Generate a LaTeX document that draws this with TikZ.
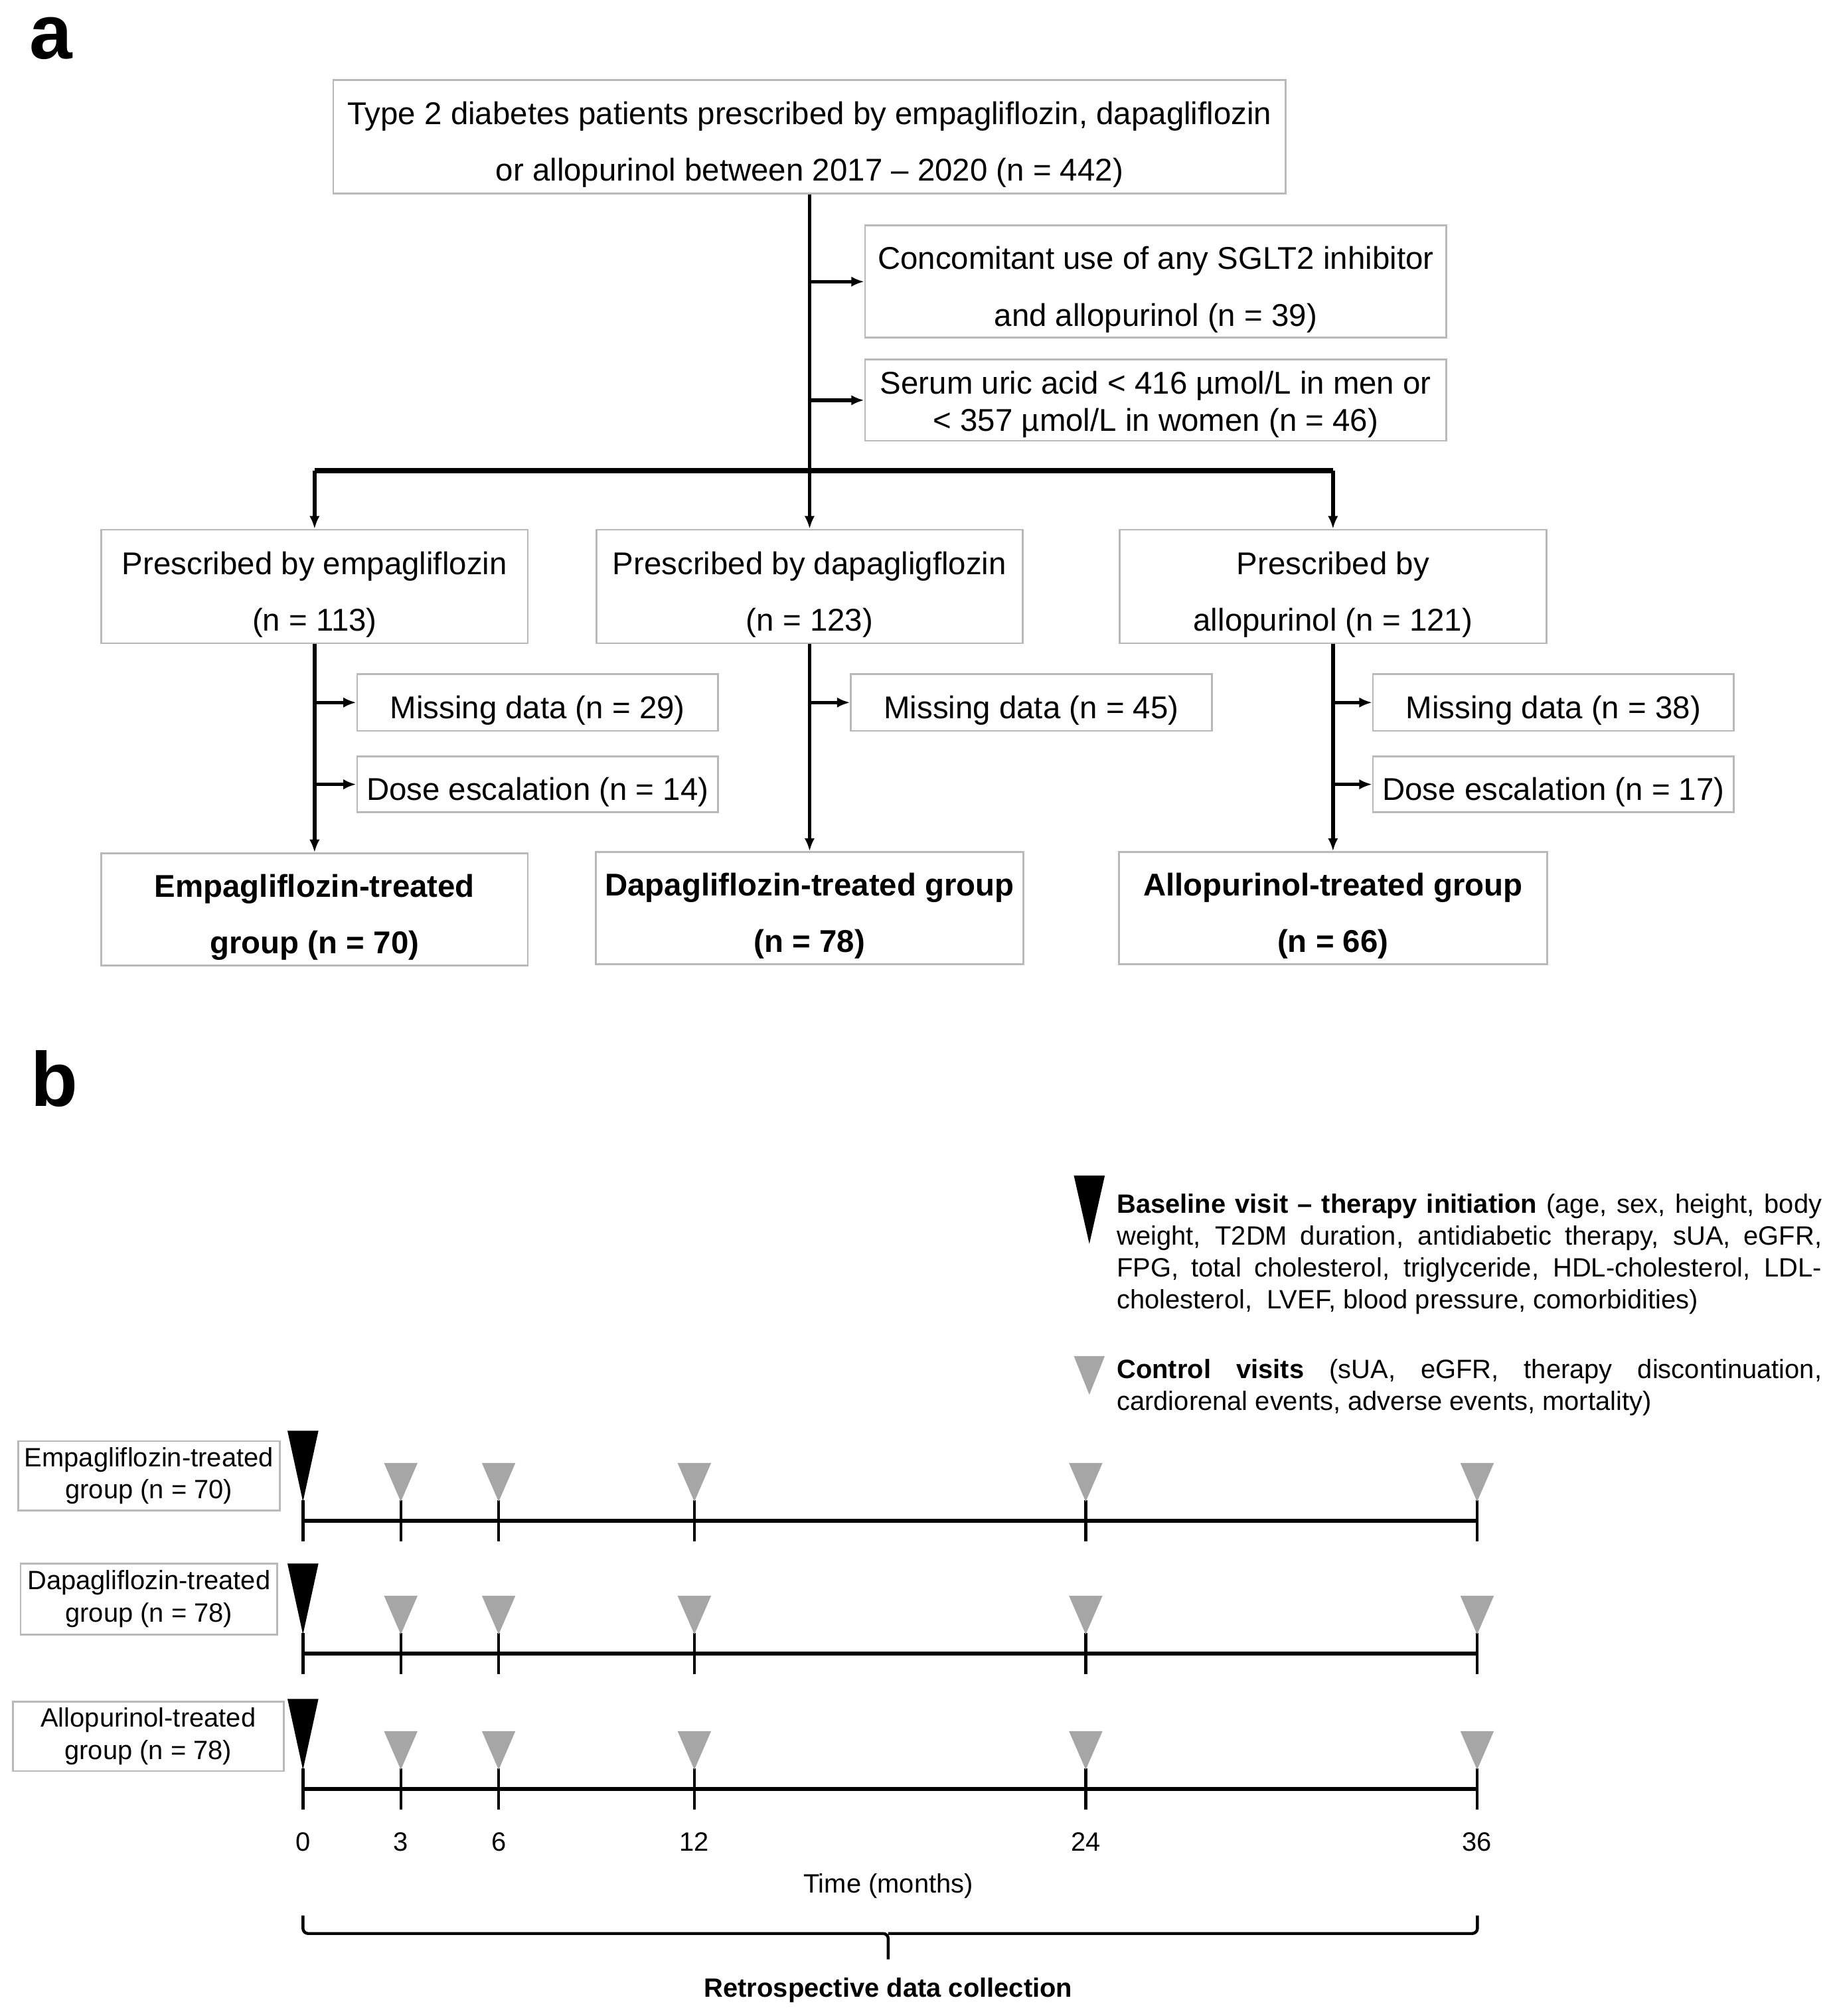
\documentclass[tikz,border=0pt]{standalone}
\usepackage{fontspec}
\setmainfont{Liberation Sans}
\usetikzlibrary{arrows.meta}
\definecolor{boxgray}{RGB}{185,185,185}
\definecolor{visitgray}{RGB}{166,166,166}
\newcommand\fonta{\fontsize{13.9}{25}\selectfont}
\newcommand\fontb{\fontsize{11.7}{14.2}\selectfont}
\newcommand\jline[1]{\makebox[10.94cm][s]{#1}}
\begin{document}
\begin{tikzpicture}[x=0.02cm,y=-0.02cm,
  box/.style={draw=boxgray,line width=0.8pt,inner sep=0pt,align=center,font=\fonta,
    execute at begin node={\rule{0pt}{0.6cm}}},
  twoline/.style={execute at begin node={\rule{0pt}{1.48cm}}},
  groupbox/.style={box,twoline,font=\fonta\bfseries},
  smallbox/.style={draw=boxgray,line width=0.8pt,inner sep=0pt,align=center,font=\fontb},
  arr/.style={line width=1.6pt,-{Latex[length=0.2cm,width=0.16cm]}},
  bar/.style={line width=2.4pt},
  axis/.style={line width=1.7pt},
  tick/.style={line width=1.3pt},
  panel/.style={font=\fontsize{34}{40}\selectfont\bfseries,inner sep=0pt}
]
\useasboundingbox (0,0) rectangle (1420,1564);

% panel a: flow chart
\node[panel] (labela) at (39.5,30) {a};
\node[box,twoline,minimum width=14.78cm,minimum height=1.76cm] (top) at (628,106)
  {Type 2 diabetes patients prescribed by empagliflozin, dapagliflozin\\or allopurinol between 2017 -- 2020 (n = 442)};
\node[box,twoline,minimum width=9.02cm,minimum height=1.74cm] (conc) at (896.5,218.5)
  {Concomitant use of any SGLT2 inhibitor\\and allopurinol (n = 39)};
\node[box,minimum width=9.02cm,minimum height=1.26cm,font=\fontsize{13.9}{16.5}\selectfont,
  execute at begin node={\rule{0pt}{1.06cm}}] (serum) at (896.5,310.5)
  {Serum uric acid < 416 µmol/L in men or\\< 357 µmol/L in women (n = 46)};
\node[box,twoline,minimum width=6.62cm,minimum height=1.76cm] (pe) at (244,455)
  {Prescribed by empagliflozin\\(n = 113)};
\node[box,twoline,minimum width=6.62cm,minimum height=1.76cm] (pd) at (628,455)
  {Prescribed by dapagligflozin\\(n = 123)};
\node[box,twoline,minimum width=6.62cm,minimum height=1.76cm] (pa) at (1034,455)
  {Prescribed by\\allopurinol (n = 121)};
\node[box,minimum width=5.6cm,minimum height=0.88cm] (me) at (417,545) {Missing data (n = 29)};
\node[box,minimum width=5.6cm,minimum height=0.86cm] (de) at (417,608.5) {Dose escalation (n = 14)};
\node[box,minimum width=5.6cm,minimum height=0.88cm] (md) at (800,545) {Missing data (n = 45)};
\node[box,minimum width=5.6cm,minimum height=0.88cm] (ma) at (1205,545) {Missing data (n = 38)};
\node[box,minimum width=5.6cm,minimum height=0.86cm] (da) at (1205,608.5) {Dose escalation (n = 17)};
\node[groupbox,minimum width=6.62cm,minimum height=1.74cm] (ge) at (244,705.5)
  {Empagliflozin-treated\\group (n = 70)};
\node[groupbox,minimum width=6.64cm,minimum height=1.74cm] (gd) at (628,704.5)
  {Dapagliflozin-treated group\\(n = 78)};
\node[groupbox,minimum width=6.64cm,minimum height=1.74cm] (ga) at (1034,704.5)
  {Allopurinol-treated group\\(n = 66)};
\coordinate (split) at (628,365);

\draw[arr] (top.south) -- (pd.north);
\draw[arr] (top.south |- conc.west) -- (conc.west);
\draw[arr] (top.south |- serum.west) -- (serum.west);
\draw[bar] (pe.north |- split) -- (pa.north |- split);
\draw[arr] (pe.north |- split) -- (pe.north);
\draw[arr] (pa.north |- split) -- (pa.north);
\draw[arr] (pe.south) -- (ge.north);
\draw[arr] (pd.south) -- (gd.north);
\draw[arr] (pa.south) -- (ga.north);
\draw[arr] (pe.south |- me.west) -- (me.west);
\draw[arr] (pe.south |- de.west) -- (de.west);
\draw[arr] (pd.south |- md.west) -- (md.west);
\draw[arr] (pa.south |- ma.west) -- (ma.west);
\draw[arr] (pa.south |- da.west) -- (da.west);

% panel b: follow-up timeline
\node[panel] (labelb) at (42,837) {b};
\fill (833,912) -- (857,912) -- (845,965) -- cycle;
\fill[visitgray] (833,1052) -- (857,1052) -- (845,1082) -- cycle;
\node[anchor=north west,inner sep=0pt,align=left,font=\fontsize{11.7}{14}\selectfont] (baseline) at (866,926)
  {\jline{\textbf{Baseline visit -- therapy initiation} (age, sex, height, body}\\
   \jline{weight, T2DM duration, antidiabetic therapy, sUA, eGFR,}\\
   \jline{FPG, total cholesterol, triglyceride, HDL-cholesterol, LDL-}\\
   cholesterol,\ \ LVEF, blood pressure, comorbidities)};
\node[anchor=north west,inner sep=0pt,align=left,font=\fontsize{11.7}{14}\selectfont] (control) at (866,1054)
  {\jline{\textbf{Control visits} (sUA, eGFR, therapy discontinuation,}\\
   cardiorenal events, adverse events, mortality)};

\node[smallbox,minimum width=4.06cm,minimum height=1.08cm] (be) at (115.5,1145)
  {Empagliflozin-treated\\group (n = 70)};
\node[smallbox,minimum width=3.98cm,minimum height=1.1cm] (bd) at (115.5,1240.5)
  {Dapagliflozin-treated\\group (n = 78)};
\node[smallbox,minimum width=4.2cm,minimum height=1.08cm] (ba) at (115,1347)
  {Allopurinol-treated\\group (n = 78)};

\foreach \yy in {1180,1283,1388} {
  \draw[axis] (235,\yy) -- (1146,\yy);
  \foreach \m in {0,3,6,12,24,36}
    \draw[tick] ({235+25.3*\m},{\yy-16}) -- ({235+25.3*\m},{\yy+16});
  \fill (223,{\yy-70}) -- (247,{\yy-70}) -- (235,{\yy-15}) -- cycle;
  \foreach \m in {3,6,12,24,36}
    \fill[visitgray] ({235+25.3*\m-13},{\yy-45}) -- ({235+25.3*\m+13},{\yy-45})
      -- ({235+25.3*\m},{\yy-15}) -- cycle;
}
\foreach \m in {0,3,6,12,24,36}
  \node[font=\fontb] (m\m) at ({235+25.3*\m},1429) {\m};
\node[font=\fontb] (time) at (689,1463) {Time (months)};

\draw[line width=1.3pt,rounded corners=0.08cm] (235,1486) -- (235,1500) -- (689,1500) -- (689,1520);
\draw[line width=1.3pt,rounded corners=0.08cm] (689,1500) -- (1146,1500) -- (1146,1486);
\node[font=\fontb\bfseries] (retro) at (689,1544) {Retrospective data collection};
\end{tikzpicture}
\end{document}
